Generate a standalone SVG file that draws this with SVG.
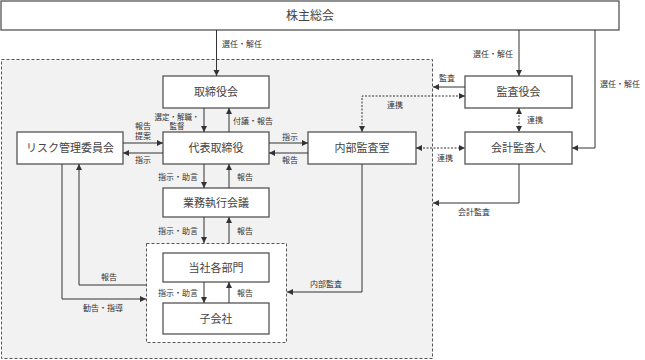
<svg xmlns="http://www.w3.org/2000/svg" width="645" height="360" viewBox="0 0 645 360">
<style>
.box{fill:#fff;stroke:#555;stroke-width:1.3}
.nt{font-family:"Noto Sans CJK JP","Noto Sans",sans-serif;font-size:11px;fill:#444;text-anchor:middle}
.lb{font-family:"Noto Sans CJK JP","Noto Sans",sans-serif;font-size:8px;fill:#333}
.ln{fill:none;stroke:#333;stroke-width:1}
.dl{fill:none;stroke:#333;stroke-width:1;stroke-dasharray:2,1.5}
.m{text-anchor:middle}
.e{text-anchor:end}
</style>
<defs>
<marker id="ar" markerUnits="userSpaceOnUse" markerWidth="7" markerHeight="7" refX="6" refY="3" orient="auto-start-reverse" viewBox="0 0 7 6">
<path d="M0,0 L6,3 L0,6 z" fill="#333"/>
</marker>
</defs>
<rect x="1.5" y="59.5" width="431" height="299" fill="#f2f2f2" stroke="#555" stroke-width="1" stroke-dasharray="3,2"/>
<g id="shareholders"><rect class="box" x="1" y="1" width="618" height="29"/><text class="nt" x="310" y="20" style="font-size:12px">株主総会</text></g>
<g id="board"><rect class="box" x="163" y="76" width="106" height="32"/><text class="nt" x="216" y="96">取締役会</text></g>
<g id="ceo"><rect class="box" x="163" y="132" width="106" height="32"/><text class="nt" x="216" y="152">代表取締役</text></g>
<g id="risk"><rect class="box" x="17" y="132" width="106" height="32"/><text class="nt" x="70" y="152">リスク管理委員会</text></g>
<g id="internal-audit"><rect class="box" x="308" y="132" width="108" height="32"/><text class="nt" x="362" y="152">内部監査室</text></g>
<g id="auditors"><rect class="box" x="465" y="76" width="107" height="32"/><text class="nt" x="518.5" y="96">監査役会</text></g>
<g id="accounting-auditor"><rect class="box" x="465" y="132" width="107" height="32"/><text class="nt" x="518.5" y="152">会計監査人</text></g>
<g id="exec-meeting"><rect class="box" x="163" y="188" width="106" height="29"/><text class="nt" x="216" y="206.5">業務執行会議</text></g>
<g id="group"><rect x="146.5" y="243.5" width="140" height="99" fill="#fff" stroke="#555" stroke-width="1" stroke-dasharray="3,2"/></g>
<g id="departments"><rect class="box" x="163" y="253" width="106" height="29"/><text class="nt" x="216" y="271.5">当社各部門</text></g>
<g id="subsidiaries"><rect class="box" x="163" y="303" width="106" height="31"/><text class="nt" x="216" y="322.5">子会社</text></g>
<g id="connectors">
<path class="ln" d="M216.5,30 V76" marker-end="url(#ar)"/>
<path class="ln" d="M519,30 V76" marker-end="url(#ar)"/>
<path class="ln" d="M595,30 V148 H572" marker-end="url(#ar)"/>
<path class="ln" d="M204,108 V132" marker-end="url(#ar)"/>
<path class="ln" d="M229,132 V108" marker-end="url(#ar)"/>
<path class="ln" d="M123,143 H163" marker-end="url(#ar)"/>
<path class="ln" d="M163,153 H123" marker-end="url(#ar)"/>
<path class="ln" d="M269,143 H308" marker-end="url(#ar)"/>
<path class="ln" d="M308,153 H269" marker-end="url(#ar)"/>
<path class="ln" d="M204,164 V188" marker-end="url(#ar)"/>
<path class="ln" d="M229,188 V164" marker-end="url(#ar)"/>
<path class="ln" d="M204,217 V243" marker-end="url(#ar)"/>
<path class="ln" d="M229,243 V217" marker-end="url(#ar)"/>
<path class="ln" d="M204,282 V303" marker-end="url(#ar)"/>
<path class="ln" d="M229,303 V282" marker-end="url(#ar)"/>
<path class="ln" d="M146,285 H79 V164" marker-end="url(#ar)"/>
<path class="ln" d="M62,164 V299 H146" marker-end="url(#ar)"/>
<path class="ln" d="M362,164 V292 H287" marker-end="url(#ar)"/>
<path class="ln" d="M465,87 H433" marker-end="url(#ar)"/>
<path class="dl" d="M465,96 H362 V132" marker-start="url(#ar)" marker-end="url(#ar)"/>
<path class="dl" d="M519,108 V132" marker-start="url(#ar)" marker-end="url(#ar)"/>
<path class="dl" d="M416,148 H465" marker-start="url(#ar)" marker-end="url(#ar)"/>
<path class="ln" d="M519,164 V203 H433" marker-end="url(#ar)"/>
<text class="lb" x="222" y="47">選任・解任</text>
<text class="lb e" x="513" y="57">選任・解任</text>
<text class="lb" x="600" y="87">選任・解任</text>
<text class="lb m" x="177" y="119.5" style="font-size:7.5px">選定・解職・</text>
<text class="lb m" x="177" y="129" style="font-size:7.5px">監督</text>
<text class="lb" x="233" y="124">付議・報告</text>
<text class="lb m" x="143" y="129">報告</text>
<text class="lb m" x="143" y="139">提案</text>
<text class="lb m" x="143" y="163">指示</text>
<text class="lb m" x="290" y="140">指示</text>
<text class="lb m" x="290" y="163">報告</text>
<text class="lb e" x="198" y="180">指示・助言</text>
<text class="lb" x="237" y="180">報告</text>
<text class="lb e" x="198" y="234">指示・助言</text>
<text class="lb" x="237" y="234">報告</text>
<text class="lb e" x="198" y="296">指示・助言</text>
<text class="lb" x="237" y="296">報告</text>
<text class="lb m" x="109" y="280">報告</text>
<text class="lb m" x="103" y="311">勧告・指導</text>
<text class="lb m" x="326" y="287">内部監査</text>
<text class="lb m" x="447" y="81">監査</text>
<text class="lb m" x="395" y="108">連携</text>
<text class="lb" x="527" y="123">連携</text>
<text class="lb m" x="445" y="161">連携</text>
<text class="lb m" x="474" y="215">会計監査</text>
</g>
</svg>
